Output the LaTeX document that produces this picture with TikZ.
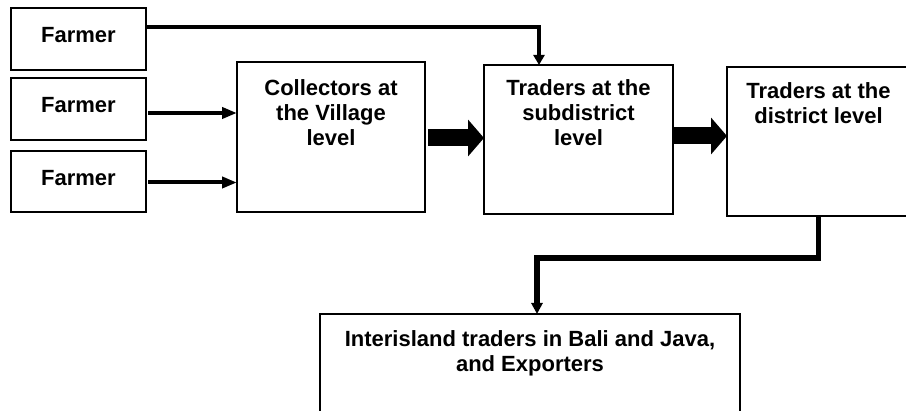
\documentclass[tikz,border=0pt]{standalone}
\usepackage{fontspec}
\setmainfont{Liberation Sans}
\usetikzlibrary{arrows.meta}
% box text: width, height, top gap, lines
\newcommand{\boxtxt}[4]{\parbox[t][#2][t]{#1}{\centering\vspace*{#3}#4\par}}
\begin{document}
\begin{tikzpicture}[x=1pt,y=-1pt,
  stage/.style={draw=black,line width=1.6pt,inner sep=0pt,outer sep=0pt,
    font=\fontsize{22}{25}\selectfont\bfseries},
  feed/.style={line width=4pt,-{Triangle[length=15pt,width=11pt]}},
  drop/.style={line width=4pt,-{Triangle[length=10pt,width=11pt]}},
  bigdrop/.style={line width=5.5pt,-{Triangle[length=11pt,width=11pt]}},
  fat/.style={line width=17pt,-{Triangle[length=16pt,width=36pt]}}]
\useasboundingbox (0,0) rectangle (906,411);
\clip (0,0) rectangle (906,411);
\fill[white] (0,0) rectangle (906,411);

% producers
\node[stage] (f1) at (78.5,39)    {\boxtxt{135pt}{62pt}{19pt}{Farmer}};
\node[stage] (f2) at (78.5,109)   {\boxtxt{135pt}{62pt}{19pt}{Farmer}};
\node[stage] (f3) at (78.5,181.5) {\boxtxt{135pt}{61pt}{19pt}{Farmer}};

% trading chain
\node[stage] (coll) at (331,137)   {\boxtxt{188pt}{150pt}{18pt}{Collectors at\\the Village\\level}};
\node[stage] (sub)  at (578.5,139.5) {\boxtxt{189pt}{149pt}{15pt}{Traders at the\\subdistrict\\level}};
\node[stage] (dist) at (818.5,141.5) {\boxtxt{183pt}{149pt}{16pt}{Traders at the\\district level}};
\node[stage] (exp)  at (530,374)   {\boxtxt{420pt}{120pt}{17pt}{Interisland traders in Bali and Java,\\and Exporters}};

% routing points
\coordinate (bend1) at (539,27);
\coordinate (bend2) at (537,258);

% farmer flows
\draw[drop] ([xshift=1pt]f1.east |- bend1) -- (bend1) -- (bend1 |- sub.north);
\draw[feed] ([xshift=2pt,yshift=-4pt]f2.east) -- ([yshift=-4pt]f2.east -| coll.west);
\draw[feed] ([xshift=2pt,yshift=-1pt]f3.east) -- ([yshift=-1pt]f3.east -| coll.west);

% main flow
\draw[fat] ([xshift=3pt,yshift=-1pt]coll.east) -- ([yshift=-1pt]coll.east -| sub.west);
\draw[fat] ([xshift=1pt,yshift=3.5pt]sub.east) -- ([yshift=3.5pt]sub.east -| dist.west);
\draw[bigdrop] (dist.south) |- (bend2) -- (bend2 |- exp.north);
\end{tikzpicture}
\end{document}
